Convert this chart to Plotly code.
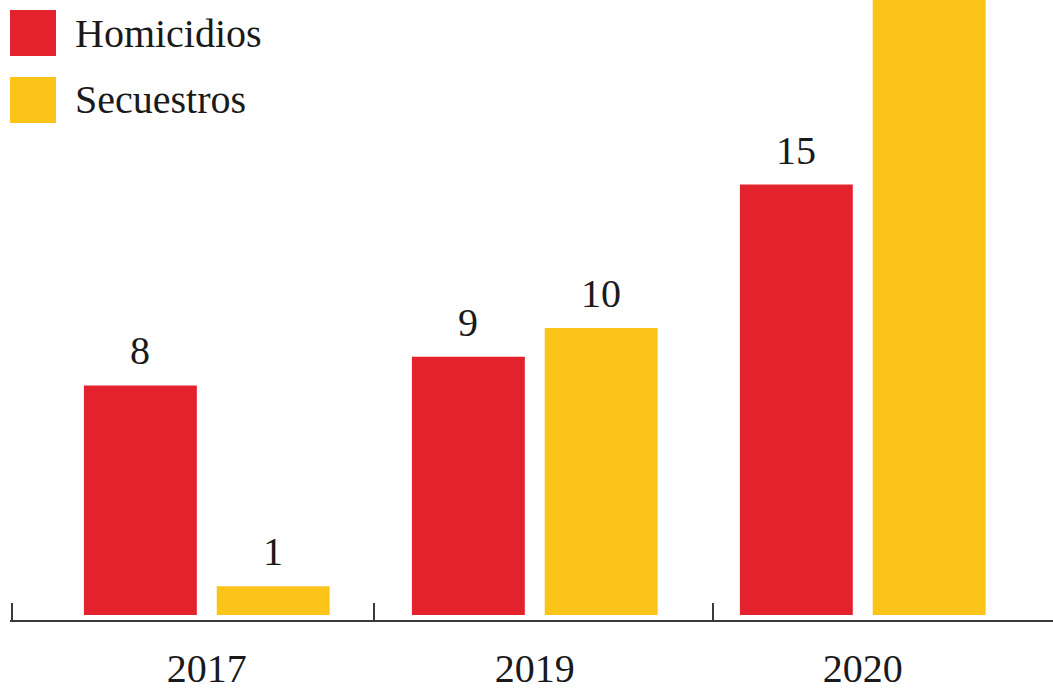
import plotly.graph_objects as go

years = ["2017", "2019", "2020"]
series_names = ["Homicidios", "Secuestros"]
homicidios = [8, 9, 15]
secuestros = [1, 10, 24]
colors = ["#E4222E", "#FCC318"]
boundary_ticks = [-0.594, 0.511, 1.543]

FONT = "Liberation Serif"
BAR_SLOT_PX = 133  # distance between bar centres inside a group

fig = go.Figure()
for i, (name, vals, col) in enumerate(zip(series_names, [homicidios, secuestros], colors)):
    fig.add_trace(go.Bar(
        x=years, y=vals, name=name, marker=dict(color=col, line=dict(width=0)),
        cliponaxis=True, showlegend=False,
    ))
    for j, v in enumerate(vals):
        if v > 21:
            continue  # bar runs off the top; its label is outside the view
        fig.add_annotation(x=j, y=v, xref="x", yref="y", text=str(v), showarrow=False,
                           xshift=(i - 0.5) * BAR_SLOT_PX, yshift=10, yanchor="bottom",
                           font=dict(family=FONT, size=40, color="#1a1a1a"))

# invisible helper trace for boundary ticks axis
fig.add_trace(go.Scatter(x=[boundary_ticks[1]], y=[0], xaxis="x2", mode="markers",
                         marker=dict(opacity=0), showlegend=False, hoverinfo="skip"))

fig.update_layout(
    width=1053, height=691,
    margin=dict(l=10, r=0, t=0, b=71),
    paper_bgcolor="white", plot_bgcolor="white",
    barmode="group", bargap=0.19, bargroupgap=0.15,
    font=dict(family=FONT, color="#1a1a1a"),
    xaxis=dict(type="category", range=[-0.6, 2.58], showgrid=False, zeroline=False,
               showline=True, linecolor="#3a3a3a", linewidth=2, ticks="",
               tickfont=dict(family=FONT, size=40, color="#1a1a1a"),
               ticklabelstandoff=12, automargin=False),
    xaxis2=dict(overlaying="x", anchor="y", side="bottom", type="linear",
                range=[-0.6, 2.58], tickvals=boundary_ticks, ticks="inside",
                ticklen=17, tickwidth=2, tickcolor="#3a3a3a", showticklabels=False,
                showgrid=False, zeroline=False, showline=False, automargin=False),
    yaxis=dict(range=[-0.174, 21.43], showticklabels=False, ticks="", showline=False,
               showgrid=False, zeroline=False, automargin=False),
)

# legend drawn as paper-space swatches
for i, (name, col) in enumerate(zip(series_names, colors)):
    top = 10 + i * 67
    fig.add_shape(type="rect", xref="paper", yref="paper",
                  x0=0 / 1043, x1=46 / 1043,
                  y0=(620 - top - 46) / 620, y1=(620 - top) / 620,
                  fillcolor=col, line=dict(width=0))
    fig.add_annotation(xref="paper", yref="paper", x=63 / 1043, y=(620 - top - 23) / 620,
                       text=name, showarrow=False, xanchor="left", yanchor="middle",
                       font=dict(family=FONT, size=40, color="#1a1a1a"))

fig.write_html("out.html")
